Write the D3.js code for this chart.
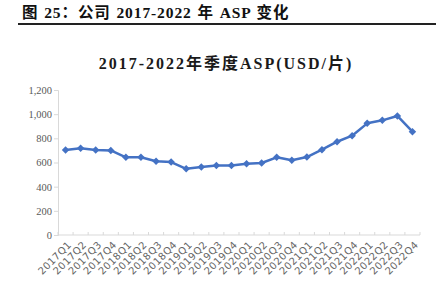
<!DOCTYPE html>
<html>
<head>
<meta charset="utf-8">
<script src="https://cdn.jsdelivr.net/npm/d3@7"></script>
<style>
  body { margin: 0; background: #fff; }
  svg { display: block; }
</style>
</head>
<body>
<div id="chart"></div>
<script>
// quarters and ASP values (USD per wafer)
const quarters = [
  "2017Q1","2017Q2","2017Q3","2017Q4",
  "2018Q1","2018Q2","2018Q3","2018Q4",
  "2019Q1","2019Q2","2019Q3","2019Q4",
  "2020Q1","2020Q2","2020Q3","2020Q4",
  "2021Q1","2021Q2","2021Q3","2021Q4",
  "2022Q1","2022Q2","2022Q3","2022Q4"
];
const asp = [
  703, 717, 703, 700,
  643, 643, 610, 604,
  548, 562, 576, 576,
  590, 596, 643, 618,
  645, 706, 772, 822,
  924, 949, 985, 855
];
const yTicks = [0, 200, 400, 600, 800, 1000, 1200];

const W = 436, H = 288;
const margin = {top: 90, right: 16, bottom: 53, left: 58};

const svg = d3.select("#chart")
  .append("svg")
    .attr("width", W)
    .attr("height", H);

// figure header with rule under it
svg.append("text")
  .attr("x", 22)
  .attr("y", 18)
  .attr("font-family", "'Liberation Serif', 'Noto Sans CJK SC', serif")
  .attr("font-weight", "bold")
  .attr("font-size", 15.5)
  .attr("letter-spacing", 0.9)
  .attr("word-spacing", 1)
  .attr("fill", "#111")
  .text("图 25：公司 2017-2022 年 ASP 变化");

svg.append("line")
  .attr("x1", 18).attr("x2", W)
  .attr("y1", 24).attr("y2", 24)
  .attr("stroke", "#222")
  .attr("stroke-width", 2);

// chart title
svg.append("text")
  .attr("x", 226)
  .attr("y", 69)
  .attr("text-anchor", "middle")
  .attr("font-family", "'Liberation Serif', 'Noto Sans CJK SC', serif")
  .attr("font-weight", "bold")
  .attr("font-size", 16)
  .attr("letter-spacing", 2)
  .attr("fill", "#1a1a1a")
  .text("2017-2022年季度ASP(USD/片)");

const g = svg.append("g")
  .attr("transform", `translate(${margin.left},${margin.top})`);

const width = W - margin.left - margin.right,
      height = H - margin.top - margin.bottom;

const x = d3.scaleBand()
  .domain(quarters)
  .range([0, width]);

const y = d3.scaleLinear()
  .domain([0, 1200])
  .range([height, 0]);

// y axis
const yAxis = g.append("g")
  .call(d3.axisLeft(y).tickValues(yTicks).tickSize(4).tickFormat(d3.format(",")));
yAxis.select(".domain").attr("stroke", "#d9d9d9");
yAxis.selectAll(".tick line").attr("stroke", "#d9d9d9");
yAxis.selectAll(".tick text")
  .attr("x", -6)
  .attr("fill", "#595959")
  .attr("font-family", "'Liberation Serif', serif")
  .attr("font-size", 10.5);

// x axis: ticks at band edges pointing up
const xAxis = g.append("g")
  .attr("transform", `translate(0,${height})`);
xAxis.append("line")
  .attr("x1", 0).attr("x2", width)
  .attr("stroke", "#d9d9d9");
xAxis.selectAll(".edge")
  .data(quarters.concat(["end"]))
  .join("line")
    .attr("class", "edge")
    .attr("x1", (d, i) => i * x.bandwidth())
    .attr("x2", (d, i) => i * x.bandwidth())
    .attr("y1", 0).attr("y2", -3)
    .attr("stroke", "#d9d9d9");
xAxis.selectAll(".lbl")
  .data(quarters)
  .join("text")
    .attr("class", "lbl")
    .attr("transform", d => `translate(${x(d) + x.bandwidth() / 2 + 4},${8}) rotate(-45)`)
    .attr("text-anchor", "end")
    .attr("dy", "0.35em")
    .attr("fill", "#666")
    .attr("font-family", "'DejaVu Sans', sans-serif")
    .attr("font-size", 10)
    .attr("letter-spacing", 0.4)
    .text(d => d);

// the line
const line = d3.line()
  .x((d, i) => x(quarters[i]) + x.bandwidth() / 2)
  .y(d => y(d));

g.append("path")
  .datum(asp)
  .attr("fill", "none")
  .attr("stroke", "#4472C4")
  .attr("stroke-width", 2.5)
  .attr("stroke-linejoin", "round")
  .attr("d", line);

// diamond markers
g.selectAll(".pt")
  .data(asp)
  .join("path")
    .attr("class", "pt")
    .attr("d", d3.symbol().type(d3.symbolSquare).size(28))
    .attr("transform", (d, i) => `translate(${x(quarters[i]) + x.bandwidth() / 2},${y(d)}) rotate(45)`)
    .attr("fill", "#4472C4");
</script>
</body>
</html>
